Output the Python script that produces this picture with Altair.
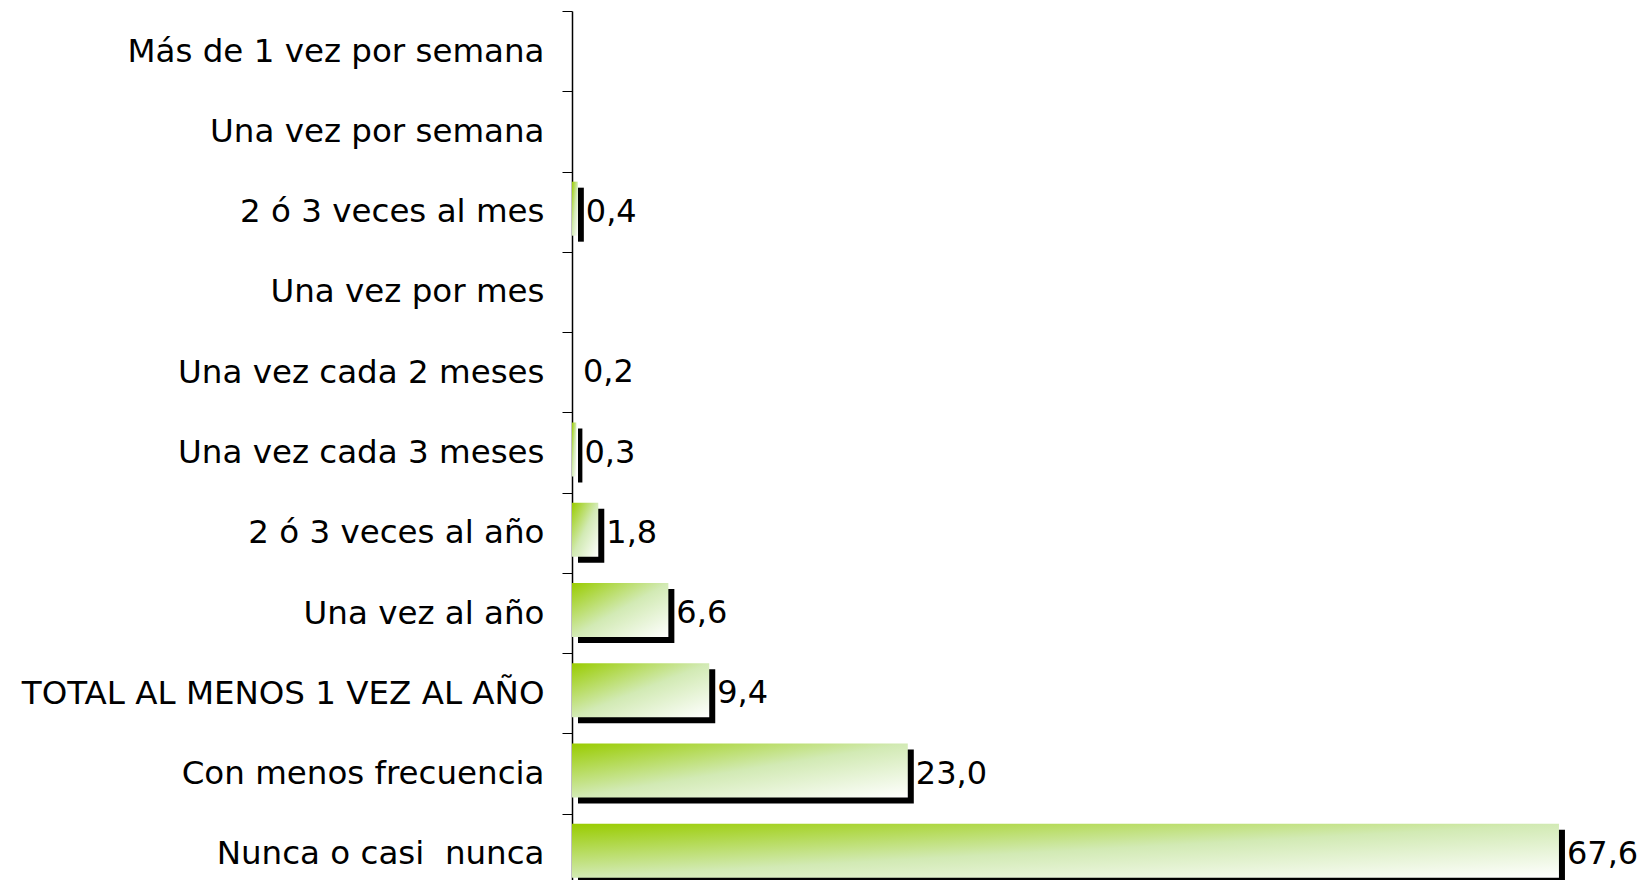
import altair as alt
import pandas as pd

categories = [
    "Más de 1 vez por semana",
    "Una vez por semana",
    "2 ó 3 veces al mes",
    "Una vez por mes",
    "Una vez cada 2 meses",
    "Una vez cada 3 meses",
    "2 ó 3 veces al año",
    "Una vez al año",
    "TOTAL AL MENOS 1 VEZ AL AÑO",
    "Con menos frecuencia",
    "Nunca o casi\u00a0 nunca",
]
values = [None, None, 0.4, None, 0.2, 0.3, 1.8, 6.6, 9.4, 23.0, 67.6]
# bars as drawn in the reference (the 0,2 bar is not visible there)
bar_values = [None, None, 0.4, None, None, 0.3, 1.8, 6.6, 9.4, 23.0, 67.6]
value_labels = ["", "", "0,4", "", "0,2", "0,3", "1,8", "6,6", "9,4", "23,0", "67,6"]
title_text = ["%"]

df = pd.DataFrame({"cat": categories, "val": values, "bar": bar_values, "lab": value_labels})

FONT = "DejaVu Sans"

y_enc = alt.Y(
    "cat:N",
    sort=categories,
    scale=alt.Scale(paddingInner=0, paddingOuter=0),
    axis=alt.Axis(
        title=None,
        labelFontSize=32.5,
        labelFont=FONT,
        labelColor="black",
        labelPadding=18,
        labelLimit=0,
        tickSize=10,
        tickColor="black",
        tickWidth=1,
        domainColor="black",
        domainWidth=1.5,
        tickBand="extent",
    ),
)
x_scale = alt.Scale(domain=[0, 70])

base = alt.Chart(df).encode(y=y_enc)

shadow = base.mark_bar(color="black", size=54, xOffset=6, x2Offset=4, yOffset=3).encode(
    x=alt.X("bar:Q", scale=x_scale, axis=None)
)

grad = alt.Gradient(
    gradient="linear",
    stops=[
        alt.GradientStop(color="#99cc00", offset=0),
        alt.GradientStop(color="#d2eab4", offset=0.5),
        alt.GradientStop(color="#ffffff", offset=1),
    ],
    x1=0, y1=0, x2=1, y2=1,
)
face = base.mark_bar(color=grad, size=54, yOffset=-3).encode(
    x=alt.X("bar:Q", scale=x_scale, axis=None)
)

labels = base.mark_text(
    align="left", baseline="middle", dx=8, fontSize=32, font=FONT, color="black"
).encode(x=alt.X("val:Q", scale=x_scale, axis=None), text="lab:N")

title = alt.Chart(pd.DataFrame({"t": title_text})).mark_text(
    fontSize=44, font=FONT, baseline="bottom", align="center", color="black"
).encode(text="t:N", x=alt.value(291), y=alt.value(4))

chart = (
    alt.layer(shadow, face, labels, title)
    .properties(
        width=1022,
        height=883,
        autosize=alt.AutoSizeParams(type="none"),
        padding={"left": 564, "top": 3, "right": 44, "bottom": -14},
    )
    .configure_view(stroke=None)
)

chart.save("out.html", embed_options={"renderer": "svg", "actions": False})
